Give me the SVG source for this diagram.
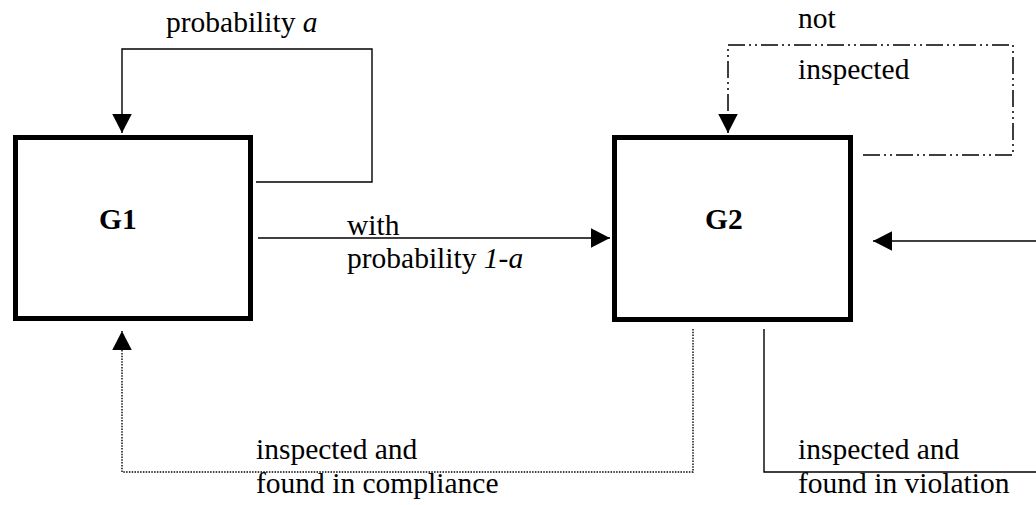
<svg xmlns="http://www.w3.org/2000/svg" width="1036" height="505" viewBox="0 0 1036 505">
  <style>
    .box { fill: #fff; stroke: #000; stroke-width: 5; }
    .lbl { font-family: "Liberation Serif", "Times New Roman", serif; font-size: 29.5px; fill: #000; }
    .bold { font-weight: bold; }
    .it { font-style: italic; }
    .solid { fill: none; stroke: #000; stroke-width: 1.4; }
    .dashdot { fill: none; stroke: #000; stroke-width: 1.5; stroke-dasharray: 17 4 2 4 2 4; }
    .dotted { fill: none; stroke: #000; stroke-width: 1.4; stroke-dasharray: 1.5 1.3; }
  </style>
  <defs>
    <marker id="head" markerUnits="userSpaceOnUse" markerWidth="20" markerHeight="22" viewBox="0 -10 19 20" refX="18.5" refY="0" orient="auto">
      <path d="M0,-9.5 L18.5,0 L0,9.5 z" fill="#000"/>
    </marker>
  </defs>

  <rect width="1036" height="505" fill="#fff"/>

  <g id="node-g1">
    <rect class="box" x="15.5" y="137.5" width="235" height="181"/>
    <text class="lbl bold" x="99" y="229">G1</text>
  </g>

  <g id="node-g2">
    <rect class="box" x="614.5" y="137.5" width="236" height="182"/>
    <text class="lbl bold" x="705" y="229">G2</text>
  </g>

  <g id="connectors">
    <!-- G1 stays in G1 -->
    <path class="solid" d="M256,182 H372 V49 H122 V133" marker-end="url(#head)"/>
    <!-- G1 to G2 -->
    <path class="solid" d="M258,238 H610" marker-end="url(#head)"/>
    <!-- G2 not inspected -->
    <path class="dashdot" d="M863,155 H1013 V45 H728 V133" marker-end="url(#head)"/>
    <!-- return into G2 from the right -->
    <path class="solid" d="M1036,241 H873" marker-end="url(#head)"/>
    <!-- G2 inspected, in compliance, back to G1 -->
    <path class="dotted" d="M693,329 V472 H122 V331" marker-end="url(#head)"/>
    <!-- G2 inspected, in violation -->
    <path class="solid" d="M764,329 V472 H1036"/>
  </g>

  <g id="labels">
    <text class="lbl" x="166" y="32">probability <tspan class="it">a</tspan></text>
    <text class="lbl" x="798" y="28">not</text>
    <text class="lbl" x="798" y="79">inspected</text>
    <text class="lbl" x="347" y="235">with</text>
    <text class="lbl" x="347" y="268">probability <tspan class="it">1-a</tspan></text>
    <text class="lbl" x="256" y="459">inspected and</text>
    <text class="lbl" x="256" y="493">found in compliance</text>
    <text class="lbl" x="798" y="459">inspected and</text>
    <text class="lbl" x="798" y="493">found in violation</text>
  </g>
</svg>
